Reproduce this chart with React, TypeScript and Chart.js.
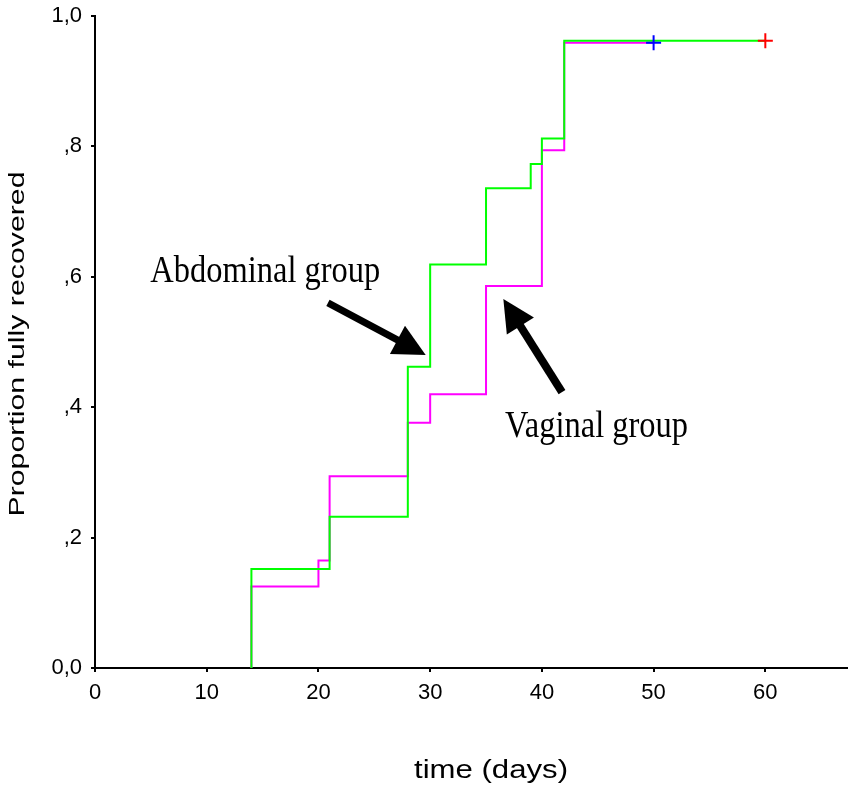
import React, { useEffect, useRef } from "react";
import { Chart, registerables } from "chart.js";

Chart.register(...registerables);

// Abdominal group (green) – event times and cumulative proportion recovered
const abdTimes = [14, 21, 28, 30, 35, 39, 40, 42];
const abdLevels = [0.152, 0.232, 0.462, 0.619, 0.736, 0.773, 0.812, 0.962];
const abdCensor = 60;

// Vaginal group (magenta)
const vagTimes = [14, 20, 21, 28, 30, 35, 40, 42];
const vagLevels = [0.125, 0.165, 0.294, 0.376, 0.42, 0.586, 0.794, 0.959];
const vagCensor = 50;

const xTicks = [0, 10, 20, 30, 40, 50, 60];
const yTicks = [0, 0.2, 0.4, 0.6, 0.8, 1.0];
const yTickLabels = ["0,0", ",2", ",4", ",6", ",8", "1,0"];

const xTitle = "time (days)";
const yTitle = "Proportion fully recovered";
const abdLabel = "Abdominal group";
const vagLabel = "Vaginal group";

function stepData(times: number[], levels: number[], end: number) {
  const pts = [{ x: times[0], y: 0 }];
  times.forEach((t, i) => pts.push({ x: t, y: levels[i] }));
  pts.push({ x: end, y: levels[levels.length - 1] });
  return pts;
}

function drawArrow(ctx: CanvasRenderingContext2D, x0: number, y0: number, x1: number, y1: number, shaft: number, headLen: number, headHalf: number) {
  const dx = x1 - x0, dy = y1 - y0;
  const len = Math.hypot(dx, dy);
  const ux = dx / len, uy = dy / len;
  const bx = x1 - ux * headLen, by = y1 - uy * headLen;
  ctx.save();
  ctx.strokeStyle = "#000";
  ctx.fillStyle = "#000";
  ctx.lineWidth = shaft;
  ctx.lineCap = "butt";
  ctx.beginPath();
  ctx.moveTo(x0, y0);
  ctx.lineTo(bx + ux * 2, by + uy * 2);
  ctx.stroke();
  ctx.beginPath();
  ctx.moveTo(x1, y1);
  ctx.lineTo(bx - uy * headHalf, by + ux * headHalf);
  ctx.lineTo(bx + uy * headHalf, by - ux * headHalf);
  ctx.closePath();
  ctx.fill();
  ctx.restore();
}

function fitText(ctx: CanvasRenderingContext2D, text: string, x: number, y: number, width: number, font: string, align: CanvasTextAlign, rotate = 0) {
  ctx.save();
  ctx.font = font;
  ctx.fillStyle = "#000";
  ctx.textAlign = align;
  ctx.textBaseline = "alphabetic";
  const w = ctx.measureText(text).width;
  ctx.translate(x, y);
  if (rotate) ctx.rotate(rotate);
  ctx.scale(width / w, 1);
  ctx.fillText(text, 0, 0);
  ctx.restore();
}

const annotationPlugin = {
  id: "annotations",
  afterDraw(chart: any) {
    const ctx: CanvasRenderingContext2D = chart.ctx;
    const xs = chart.scales.x, ys = chart.scales.y;
    const X = (v: number) => xs.getPixelForValue(v);
    const Y = (v: number) => ys.getPixelForValue(v);
    const area = chart.chartArea;

    // group labels
    fitText(ctx, abdLabel, X(4.95), Y(0.592), 230, "38px 'Liberation Serif'", "left");
    fitText(ctx, vagLabel, X(36.7), Y(0.354), 183, "38px 'Liberation Serif'", "left");

    // arrows
    drawArrow(ctx, X(20.85), Y(0.56), X(29.6), Y(0.48), 7, 32, 16);
    drawArrow(ctx, X(41.8), Y(0.423), X(36.55), Y(0.566), 8, 32, 16);

    // axis titles
    fitText(ctx, xTitle, area.left + 396, 778, 154, "25px 'Liberation Sans'", "center");
    fitText(ctx, yTitle, 24, (area.top + area.bottom) / 2 + 2, 345, "22px 'Liberation Sans'", "center", -Math.PI / 2);
  },
};

export default function App() {
  const ref = useRef<HTMLCanvasElement>(null);
  useEffect(() => {
    document.body.style.margin = "0";
    const canvas = ref.current!;
    const chart = new Chart(canvas, {
      type: "line",
      data: {
        datasets: [
          {
            type: "scatter",
            data: [{ x: vagCensor, y: vagLevels[vagLevels.length - 1] }],
            pointStyle: "cross",
            pointRadius: 7.5,
            borderColor: "#0000ff",
            backgroundColor: "#0000ff",
            borderWidth: 2,
          } as any,
          {
            type: "scatter",
            data: [{ x: abdCensor, y: abdLevels[abdLevels.length - 1] }],
            pointStyle: "cross",
            pointRadius: 7.5,
            borderColor: "#ff0000",
            backgroundColor: "#ff0000",
            borderWidth: 2,
          } as any,
          {
            label: "Abdominal",
            data: stepData(abdTimes, abdLevels, abdCensor),
            stepped: "before",
            borderColor: "#00ff00",
            borderWidth: 2,
            pointRadius: 0,
            fill: false,
          },
          {
            label: "Vaginal",
            data: stepData(vagTimes, vagLevels, vagCensor),
            stepped: "before",
            borderColor: "#ff00ff",
            borderWidth: 2,
            pointRadius: 0,
            fill: false,
          },
        ],
      },
      options: {
        responsive: false,
        animation: false,
        events: [],
        layout: { autoPadding: false, padding: { top: 16, right: 0, left: 0, bottom: 0 } },
        plugins: { legend: { display: false }, tooltip: { enabled: false } },
        scales: {
          x: {
            type: "linear",
            min: 0,
            max: 67.4,
            afterBuildTicks: (s: any) => {
              s.ticks = xTicks.map((v) => ({ value: v }));
            },
            afterFit: (s: any) => {
              s.height = 119;
              s.paddingLeft = 0;
              s.paddingRight = 0;
            },
            border: { display: true, color: "#000", width: 2 },
            grid: { display: true, drawOnChartArea: false, drawTicks: true, tickLength: 4, color: "#000", lineWidth: 2 },
            ticks: {
              color: "#000",
              font: { family: "'Liberation Sans'", size: 22 },
              padding: 8,
              maxRotation: 0,
              autoSkip: false,
            },
          },
          y: {
            type: "linear",
            min: 0,
            max: 1,
            afterBuildTicks: (s: any) => {
              s.ticks = yTicks.map((v) => ({ value: v }));
            },
            afterFit: (s: any) => {
              s.width = 95;
              s.paddingTop = 0;
              s.paddingBottom = 0;
            },
            border: { display: true, color: "#000", width: 2 },
            grid: { display: true, drawOnChartArea: false, drawTicks: true, tickLength: 4, color: "#000", lineWidth: 2 },
            ticks: {
              color: "#000",
              font: { family: "'Liberation Sans'", size: 22 },
              padding: 9,
              autoSkip: false,
              callback: (v: any, i: number) => yTickLabels[i],
            },
          },
        },
      },
      plugins: [annotationPlugin],
    });
    return () => chart.destroy();
  }, []);
  return (
    <div style={{ width: 848, height: 787 }}>
      <canvas ref={ref} width={848} height={787} />
    </div>
  );
}
